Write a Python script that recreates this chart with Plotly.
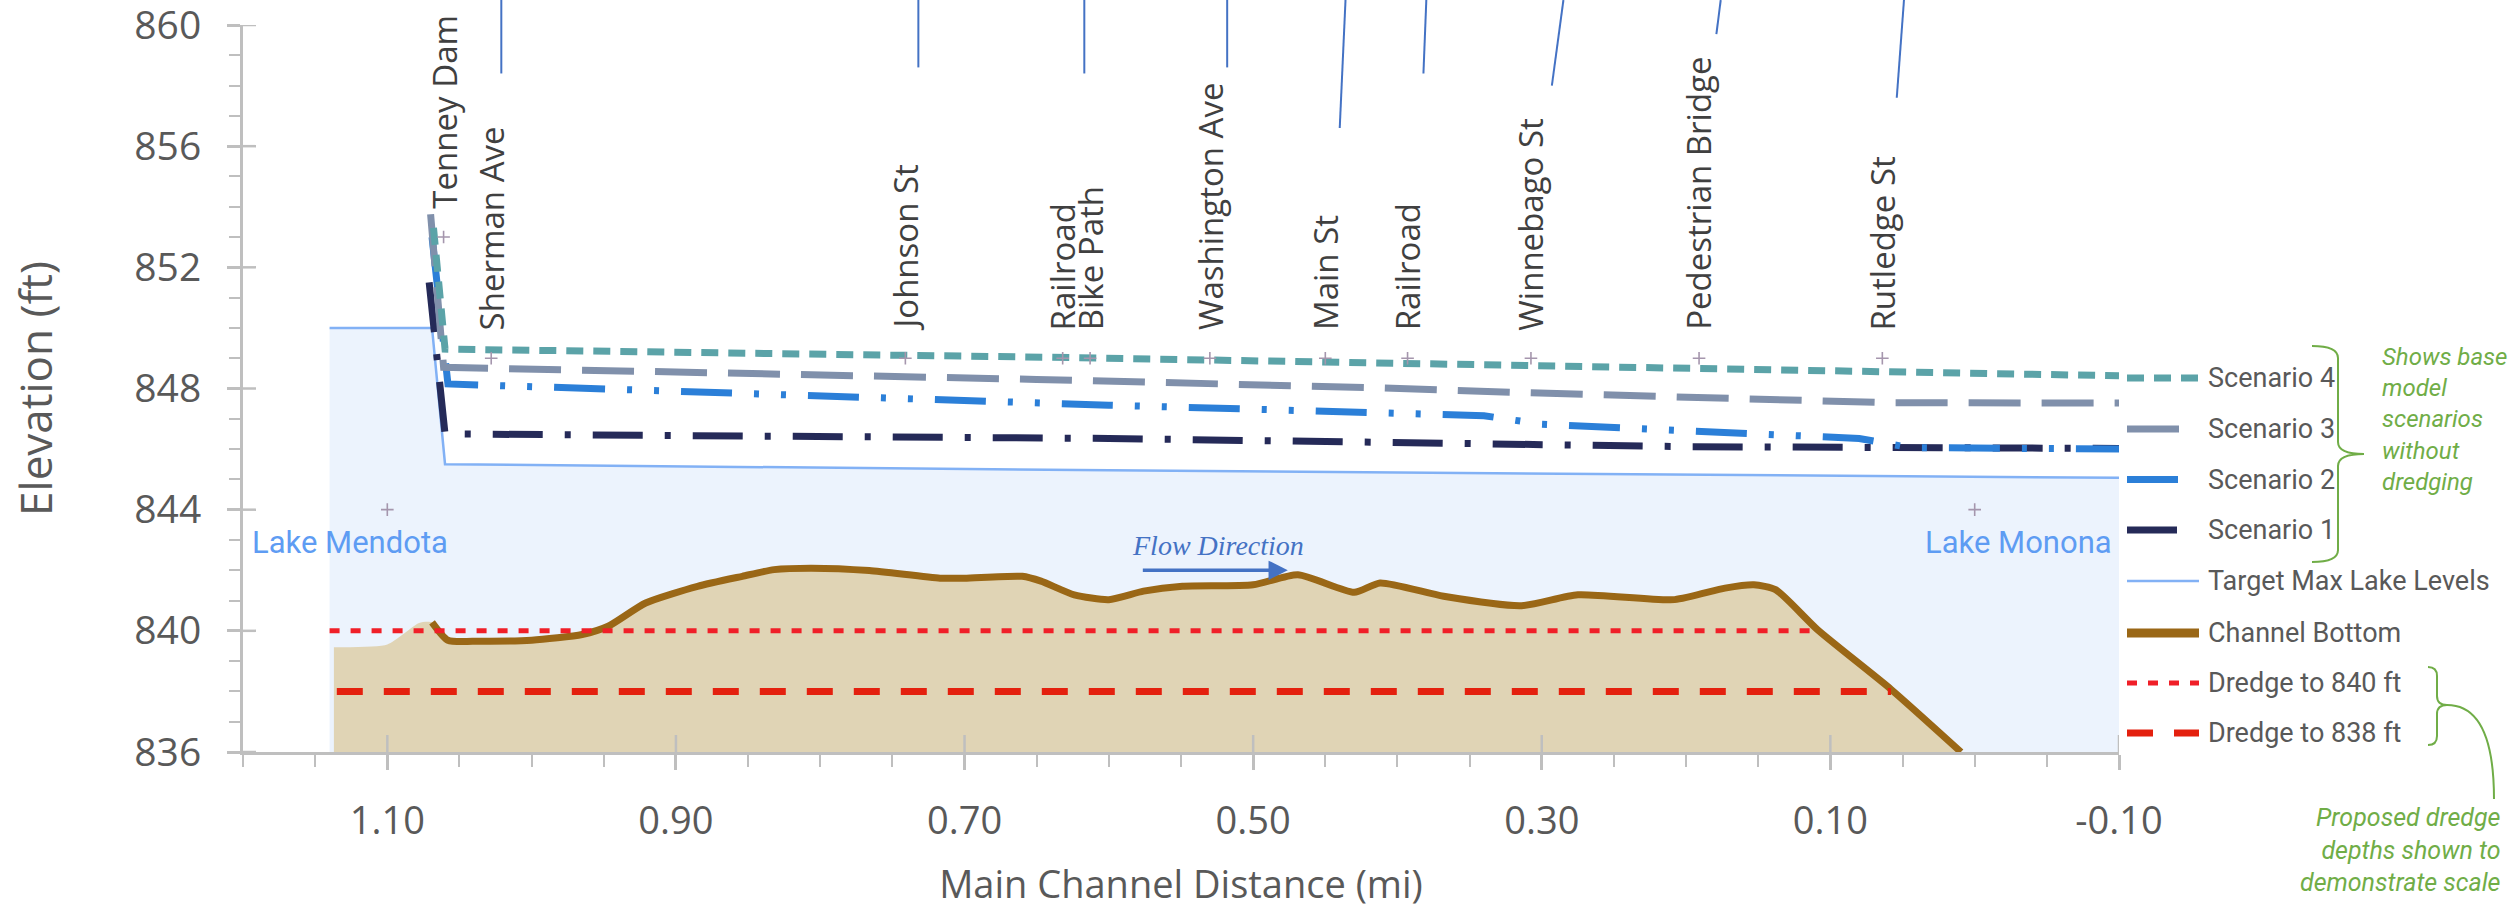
import plotly.graph_objects as go

# ---------------- data ----------------
# Target maximum lake levels along the channel (ft)
target_dist = [1.14, 1.069, 1.060, 0.60, -0.10]
target_elev = [850.0, 850.0, 845.5, 845.3, 845.05]

# Sediment surface just upstream of the surveyed channel bottom
bed_lead_dist = [1.137, 1.100, 1.078]
bed_lead_elev = [839.46, 839.55, 840.26]

# Channel bottom profile
bed_dist = [1.069, 1.058, 1.036, 1.000, 0.965, 0.947, 0.921, 0.885, 0.854, 0.832,
            0.806, 0.766, 0.717, 0.700, 0.660, 0.647, 0.624, 0.600, 0.576, 0.549,
            0.500, 0.469, 0.430, 0.412, 0.368, 0.314, 0.275, 0.208, 0.173, 0.153,
            0.138, 0.109, 0.058, 0.0095]
bed_elev = [840.28, 839.69, 839.66, 839.69, 839.88, 840.15, 840.92, 841.47, 841.80, 842.02,
            842.07, 841.99, 841.74, 841.74, 841.80, 841.64, 841.19, 841.03, 841.31, 841.47,
            841.52, 841.85, 841.27, 841.58, 841.14, 840.83, 841.19, 841.03, 841.41, 841.52,
            841.36, 840.04, 838.07, 836.0]

# Modelled water surface, base scenarios without dredging
s4_dist = [1.068, 1.060, 0.64, 0.30, 0.017, -0.10]
s4_elev = [853.3, 849.3, 849.03, 848.77, 848.5, 848.42]

s3_dist = [1.070, 1.061, 0.65, 0.46, 0.42, 0.31, 0.20, 0.06, -0.10]
s3_elev = [853.75, 848.7, 848.3, 848.12, 848.03, 847.86, 847.73, 847.53, 847.52]

s2_dist = [1.069, 1.058, 0.60, 0.41, 0.34, 0.30, 0.15, 0.08, 0.045, -0.10]
s2_elev = [853.0, 848.15, 847.45, 847.18, 847.10, 846.82, 846.52, 846.35, 846.05, 846.0]

s1_dist = [1.071, 1.060, 0.60, 0.40, 0.20, -0.10]
s1_elev = [851.5, 846.5, 846.35, 846.2, 846.08, 846.02]

# Proposed dredge depths
dredge840_dist = [1.14, 0.109]
dredge840_elev = [840.0, 840.0]
dredge838_dist = [1.135, 0.058]
dredge838_elev = [838.0, 838.0]

# Crossings along the channel
crossing_names = ["Tenney Dam", "Sherman Ave", "Johnson St", "Railroad", "Bike Path",
                  "Washington Ave", "Main St", "Railroad", "Winnebago St",
                  "Pedestrian Bridge", "Rutledge St"]
crossing_dist = [1.061, 1.028, 0.741, 0.632, 0.613, 0.530, 0.450, 0.393, 0.3075, 0.191, 0.064]
crossing_elev = [853.0, 849.0, 849.0, 849.0, 849.0, 849.0, 849.0, 849.0, 849.0, 849.0, 849.0]

# Lakes at each end of the channel
lake_names = ["Lake Mendota", "Lake Monona"]
lake_dist = [1.10, 0.0]
lake_elev = [844.0, 844.0]

# Label leader lines: distance at top, distance at bottom, bottom elevation
leader_top_dist = [1.021, 0.732, 0.617, 0.518, 0.436, 0.380, 0.285, 0.176, 0.049]
leader_bot_dist = [1.021, 0.732, 0.617, 0.518, 0.440, 0.382, 0.293, 0.179, 0.054]
leader_bot_elev = [858.4, 858.6, 858.4, 858.6, 856.6, 858.4, 858.0, 859.7, 857.6]

# Axes
x_tick_vals = [1.10, 0.90, 0.70, 0.50, 0.30, 0.10, -0.10]
x_tick_text = ["1.10", "0.90", "0.70", "0.50", "0.30", "0.10", "-0.10"]
x_minor_vals = [round(1.20 - 0.05 * i, 2) for i in range(27)]
y_tick_vals = [836, 840, 844, 848, 852, 856, 860]

# ---------------- styles ----------------
W, H = 2509, 923
ML, MR, MT, MB = 243, 390, 25, 171
PW, PH = W - ML - MR, H - MT - MB

def px_x(px):
    return (px - ML) / PW

def px_y(py):
    return (H - MB - py) / PH

def elev_y(v):
    return (v - 836.0) / 24.0

S4 = dict(color="#5ba3a8", width=7, dash="17px,10px")
S3 = dict(color="#8090ab", width=7, dash="52px,21px")
S2 = dict(color="#2b7fd8", width=7, dash="51px,22px,5px,22px,5px,22px")
S1 = dict(color="#252a58", width=7, dash="50px,22px,6px,22px")
TARGET = dict(color="#82b1f5", width=2.5)
BED = dict(color="#9a6716", width=7)
D840 = dict(color="#f01f28", width=5, dash="10px,11px")
D838 = dict(color="#e4200e", width=7, dash="26px,21px")

GRAY = "#595959"
AXIS = "#bfbfbf"
GREEN = "#70ad47"
BLUE = "#4472c4"
SANS = "Open Sans"
NARROW = "Roboto"

fig = go.Figure()

fig.add_trace(go.Scatter(x=target_dist, y=target_elev, mode="lines", line=TARGET,
                         fill="tozeroy", fillcolor="#ecf3fd", name="Target Max Lake Levels"))
fig.add_trace(go.Scatter(x=bed_lead_dist + bed_dist, y=bed_lead_elev + bed_elev, mode="lines",
                         line=dict(width=0, shape="spline", smoothing=0.6),
                         fill="tozeroy", fillcolor="#e0d4b5", name="Channel fill"))
fig.add_trace(go.Scatter(x=bed_dist, y=bed_elev, mode="lines",
                         line=dict(**BED, shape="spline", smoothing=0.6), name="Channel Bottom"))
fig.add_trace(go.Scatter(x=dredge838_dist, y=dredge838_elev, mode="lines", line=D838,
                         name="Dredge to 838 ft"))
fig.add_trace(go.Scatter(x=dredge840_dist, y=dredge840_elev, mode="lines", line=D840,
                         name="Dredge to 840 ft"))
fig.add_trace(go.Scatter(x=s1_dist, y=s1_elev, mode="lines", line=S1, name="Scenario 1"))
fig.add_trace(go.Scatter(x=s2_dist, y=s2_elev, mode="lines", line=S2, name="Scenario 2"))
fig.add_trace(go.Scatter(x=s3_dist, y=s3_elev, mode="lines", line=S3, name="Scenario 3"))
fig.add_trace(go.Scatter(x=s4_dist, y=s4_elev, mode="lines", line=S4, name="Scenario 4"))
fig.add_trace(go.Scatter(x=crossing_dist + lake_dist, y=crossing_elev + lake_elev, mode="markers",
                         marker=dict(symbol="cross-thin", size=9, line=dict(width=1.6, color="#a596ad")),
                         cliponaxis=False, name="Locations"))

annotations = []
shapes = []

# rotated crossing labels
for name, d, e in zip(crossing_names, crossing_dist, crossing_elev):
    annotations.append(dict(x=d, y=e, xref="x", yref="y", text=name, textangle=-90,
                            xanchor="center", yanchor="bottom", yshift=26, showarrow=False,
                            font=dict(family=SANS, size=33, color="#404040")))

# lake labels
for name, d, e, dx in zip(lake_names, lake_dist, lake_elev, [-37, 44]):
    annotations.append(dict(x=d, y=e, xref="x", yref="y", text=name, xanchor="center",
                            yanchor="top", xshift=dx, yshift=-12, showarrow=False,
                            font=dict(family=NARROW, size=31, color="#5e9cf3")))

# flow direction
annotations.append(dict(x=0.476, y=842.0, ax=0.5775, ay=842.0, xref="x", yref="y",
                        axref="x", ayref="y", text="", showarrow=True, arrowhead=2,
                        arrowsize=1.1, arrowwidth=3.5, arrowcolor=BLUE))
annotations.append(dict(x=0.5245, y=842.82, xref="x", yref="y", text="<i>Flow Direction</i>",
                        showarrow=False, xanchor="center", yanchor="middle",
                        font=dict(family="Liberation Serif", size=28, color=BLUE)))

# leader lines
for xt, xb, eb in zip(leader_top_dist, leader_bot_dist, leader_bot_elev):
    shapes.append(dict(type="line", xref="x", yref="paper", x0=xb, x1=xt,
                       y0=elev_y(eb), y1=px_y(0), line=dict(color=BLUE, width=2)))

# inner halves of the major tick marks
for v in y_tick_vals:
    shapes.append(dict(type="line", xref="paper", yref="y", x0=0, x1=13 / PW, y0=v, y1=v,
                       line=dict(color=AXIS, width=2.5)))
for v in x_tick_vals:
    shapes.append(dict(type="line", xref="x", yref="paper", x0=v, x1=v, y0=0, y1=17 / PH,
                       line=dict(color=AXIS, width=2.5)))

# legend
legend_rows = [("Scenario 4", S4, 378), ("Scenario 3", S3, 429), ("Scenario 2", S2, 479.5),
               ("Scenario 1", S1, 530), ("Target Max Lake Levels", TARGET, 581),
               ("Channel Bottom", dict(BED, width=9), 633), ("Dredge to 840 ft", D840, 683),
               ("Dredge to 838 ft", D838, 733)]
for name, style, py in legend_rows:
    shapes.append(dict(type="line", xref="paper", yref="paper", x0=px_x(2127), x1=px_x(2199),
                       y0=px_y(py), y1=px_y(py), line=style))
    annotations.append(dict(x=px_x(2206), y=px_y(py), xref="paper", yref="paper", text=name,
                            xanchor="left", yanchor="middle", showarrow=False,
                            font=dict(family=NARROW, size=27, color=GRAY)))

# braces and notes
def pth(points):
    return " ".join(points)

def P(cmd, *pts):
    return cmd + " " + " ".join(f"{px_x(a):.5f},{px_y(b):.5f}" for a, b in pts)

brace1 = pth([P("M", (2312, 346)), P("Q", (2338, 346), (2338, 358)), P("L", (2338, 442)),
              P("Q", (2338, 454), (2364, 454)), P("Q", (2338, 454), (2338, 466)),
              P("L", (2338, 550)), P("Q", (2338, 562), (2312, 562))])
brace2 = pth([P("M", (2428, 667)), P("Q", (2437, 667), (2437, 676)), P("L", (2437, 696)),
              P("Q", (2437, 705), (2447, 705)), P("Q", (2437, 705), (2437, 714)),
              P("L", (2437, 736)), P("Q", (2437, 745), (2428, 745))])
hook = pth([P("M", (2447, 705)), P("C", (2480, 705), (2494, 740), (2494, 799))])
for p in (brace1, brace2, hook):
    shapes.append(dict(type="path", xref="paper", yref="paper", path=p,
                       line=dict(color=GREEN, width=2)))

annotations.append(dict(x=px_x(2380), y=px_y(419), xref="paper", yref="paper",
                        text="<i>Shows base<br>model<br>scenarios<br>without<br>dredging</i>",
                        xanchor="left", yanchor="middle", align="left", showarrow=False,
                        font=dict(family=NARROW, size=24, color=GREEN)))
annotations.append(dict(x=px_x(2503), y=px_y(850), xref="paper", yref="paper",
                        text="<i>Proposed dredge<br>depths shown to<br>demonstrate scale</i>",
                        xanchor="right", yanchor="middle", align="right", showarrow=False,
                        font=dict(family=NARROW, size=25, color=GREEN)))

fig.update_layout(
    width=W, height=H, margin=dict(l=ML, r=MR, t=MT, b=MB, autoexpand=False),
    paper_bgcolor="white", plot_bgcolor="white", showlegend=False,
    annotations=annotations, shapes=shapes,
    xaxis=dict(range=[1.20, -0.10], tickmode="array", tickvals=x_tick_vals, ticktext=x_tick_text,
               ticks="outside", ticklen=15, tickwidth=2.5, tickcolor=AXIS,
               minor=dict(tickvals=x_minor_vals, ticks="outside", ticklen=12, tickwidth=2,
                          tickcolor=AXIS),
               showline=True, linecolor=AXIS, linewidth=3, showgrid=False, zeroline=False,
               tickfont=dict(family=SANS, size=38, color=GRAY), ticklabelstandoff=18,
               ticklabeloverflow="allow",
               title=dict(text="Main Channel Distance (mi)", standoff=28,
                          font=dict(family=SANS, size=38, color=GRAY)),
               automargin=False),
    yaxis=dict(range=[836, 860], tickmode="array", tickvals=y_tick_vals,
               ticks="outside", ticklen=13, tickwidth=2.5, tickcolor=AXIS,
               minor=dict(dtick=1, tick0=836, ticks="outside", ticklen=11, tickwidth=2,
                          tickcolor=AXIS),
               showline=True, linecolor=AXIS, linewidth=3, showgrid=False, zeroline=False,
               tickfont=dict(family=SANS, size=39, color=GRAY), ticklabelstandoff=18,
               ticklabeloverflow="allow",
               title=dict(text="Elevation (ft)", standoff=68,
                          font=dict(family=SANS, size=44, color=GRAY)),
               automargin=False),
)

fig.write_html("out.html")
